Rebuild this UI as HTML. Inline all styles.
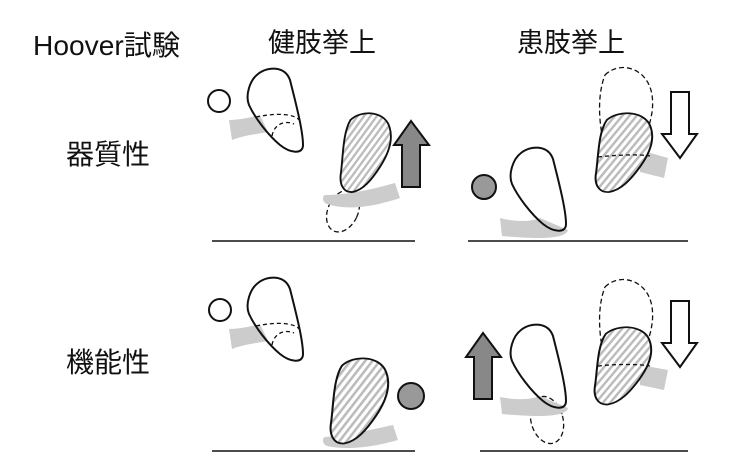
<!DOCTYPE html>
<html><head><meta charset="utf-8"><style>
html,body{margin:0;padding:0;background:#fff}
svg{display:block}
text{font-family:"Liberation Sans","Noto Sans CJK JP",sans-serif;fill:#111}
</style></head><body>
<svg width="742" height="473" viewBox="0 0 742 473" xmlns="http://www.w3.org/2000/svg">
<defs>
<pattern id="h" width="5" height="5" patternUnits="userSpaceOnUse" patternTransform="rotate(35)">
<rect width="5" height="5" fill="#fff"/><rect width="2.2" height="5" fill="#bbb"/>
</pattern>
<path id="U" d="M11,8 C21,0 38,0 43,14 C48,34 56,64 56,79 C56,89 43,87 33,79 C21,69 8,52 2,39 C-2,29 3,14 11,8 Z"/>
<path id="H" d="M10,8 C20,-2 40,-1 46,12 C52,26 46,42 38,55 C30,68 22,78 12,80 C3,81 -1,72 1,60 C3,42 3,20 10,8 Z"/>
<path id="UA" d="M17,0 L35,24 L26,24 L26,66 L8,66 L8,24 L0,24 Z"/>
</defs>
<text x="33" y="55" font-size="28" textLength="147" lengthAdjust="spacingAndGlyphs">Hoover試験</text>
<text x="268" y="52" font-size="27">健肢挙上</text>
<text x="517" y="52" font-size="27">患肢挙上</text>
<text x="66" y="164" font-size="28">器質性</text>
<text x="66" y="372" font-size="28">機能性</text>

<g stroke="#111" stroke-width="1.4">
<line x1="212" y1="241" x2="415" y2="241"/>
<line x1="468" y1="241" x2="688" y2="241"/>
<line x1="212" y1="451" x2="415" y2="451"/>
<line x1="480" y1="451" x2="688" y2="451"/>
</g>

<!-- top-left -->
<g stroke="#111" stroke-width="2">
<circle cx="219" cy="101" r="11" fill="#fff"/>
<path d="M229,120 C240,120 252,117 260,115 L268,132 C256,134 242,136 232,140 Z" fill="#ccc" stroke="none"/>
<use href="#U" x="247" y="66" fill="none"/>
<path d="M256,117 C275,113 295,113 300,121" fill="none" stroke-width="1.3" stroke-dasharray="4,3"/>
<path d="M272,136 C274,124 285,120 294,124" fill="none" stroke-width="1.3" stroke-dasharray="4,3"/>
<ellipse cx="343" cy="211" rx="15" ry="22" transform="rotate(25 343 211)" fill="none" stroke-width="1.3" stroke-dasharray="5,3"/>
<path d="M325,195 C345,195 370,190 395,183 L400,198 C370,208 345,210 327,204 C322,202 322,196 325,195 Z" fill="#ccc" stroke="none"/>
<g transform="translate(340,112) scale(1.05,1.0)"><use href="#H" fill="url(#h)" stroke-width="1.8"/></g>
<use href="#UA" x="394" y="121" fill="#888"/>
</g>

<!-- top-right -->
<g stroke="#111" stroke-width="2">
<circle cx="484" cy="187" r="12" fill="#999"/>
<path d="M500,218 C515,222 530,222 540,218 L568,230 C566,238 545,240 502,236 Z" fill="#ccc" stroke="none"/>
<use href="#U" x="510" y="145" fill="none"/>
<path d="M605,75 C620,60 648,68 652,95 C656,120 640,150 630,160 L610,160 C600,140 595,100 605,75 Z" fill="none" stroke-width="1.3" stroke-dasharray="5,3"/>
<path d="M640,150 L668,158 L664,178 L640,172 Z" fill="#ccc" stroke="none"/>
<g transform="translate(595,112) scale(1.18,1)"><use href="#H" fill="url(#h)" stroke-width="1.7"/></g>
<path d="M598,157 C615,155 640,154 650,156" fill="none" stroke-width="1.3" stroke-dasharray="4,3"/>
<use href="#UA" transform="translate(697,158) rotate(180)" fill="#fff"/>
</g>

<!-- bottom-left -->
<g stroke="#111" stroke-width="2">
<circle cx="220" cy="310" r="11" fill="#fff"/>
<path d="M229,329 C240,329 252,326 260,324 L268,341 C256,343 242,345 232,349 Z" fill="#ccc" stroke="none"/>
<use href="#U" x="247" y="275" fill="none"/>
<path d="M256,326 C275,322 295,322 300,330" fill="none" stroke-width="1.3" stroke-dasharray="4,3"/>
<path d="M272,345 C274,333 285,329 294,333" fill="none" stroke-width="1.3" stroke-dasharray="4,3"/>
<path d="M325,437 C345,436 370,430 393,425 L398,440 C370,448 345,450 327,446 C322,444 322,438 325,437 Z" fill="#ccc" stroke="none"/>
<g transform="translate(330,357) scale(1.2,1.08)"><use href="#H" fill="url(#h)" stroke-width="1.7"/></g>
<circle cx="411" cy="396" r="13" fill="#999"/>
</g>

<!-- bottom-right -->
<g stroke="#111" stroke-width="2">
<use href="#UA" transform="translate(466,333)" fill="#888"/>
<ellipse cx="547" cy="420" rx="16" ry="24" transform="rotate(-15 547 420)" fill="none" stroke-width="1.3" stroke-dasharray="5,3"/>
<path d="M500,397 C515,400 530,400 540,396 L568,408 C566,416 545,418 502,414 Z" fill="#ccc" stroke="none"/>
<use href="#U" x="510" y="322" fill="none"/>
<path d="M605,287 C620,272 648,280 652,307 C656,332 640,362 630,372 L610,372 C600,352 595,312 605,287 Z" fill="none" stroke-width="1.3" stroke-dasharray="5,3"/>
<path d="M640,365 L668,370 L664,390 L640,385 Z" fill="#ccc" stroke="none"/>
<g transform="translate(594,326) scale(1.18,0.98)"><use href="#H" fill="url(#h)" stroke-width="1.7"/></g>
<path d="M598,366 C615,364 640,364 650,366" fill="none" stroke-width="1.3" stroke-dasharray="4,3"/>
<use href="#UA" transform="translate(697,367) rotate(180)" fill="#fff"/>
</g>
</svg>
</body></html>
